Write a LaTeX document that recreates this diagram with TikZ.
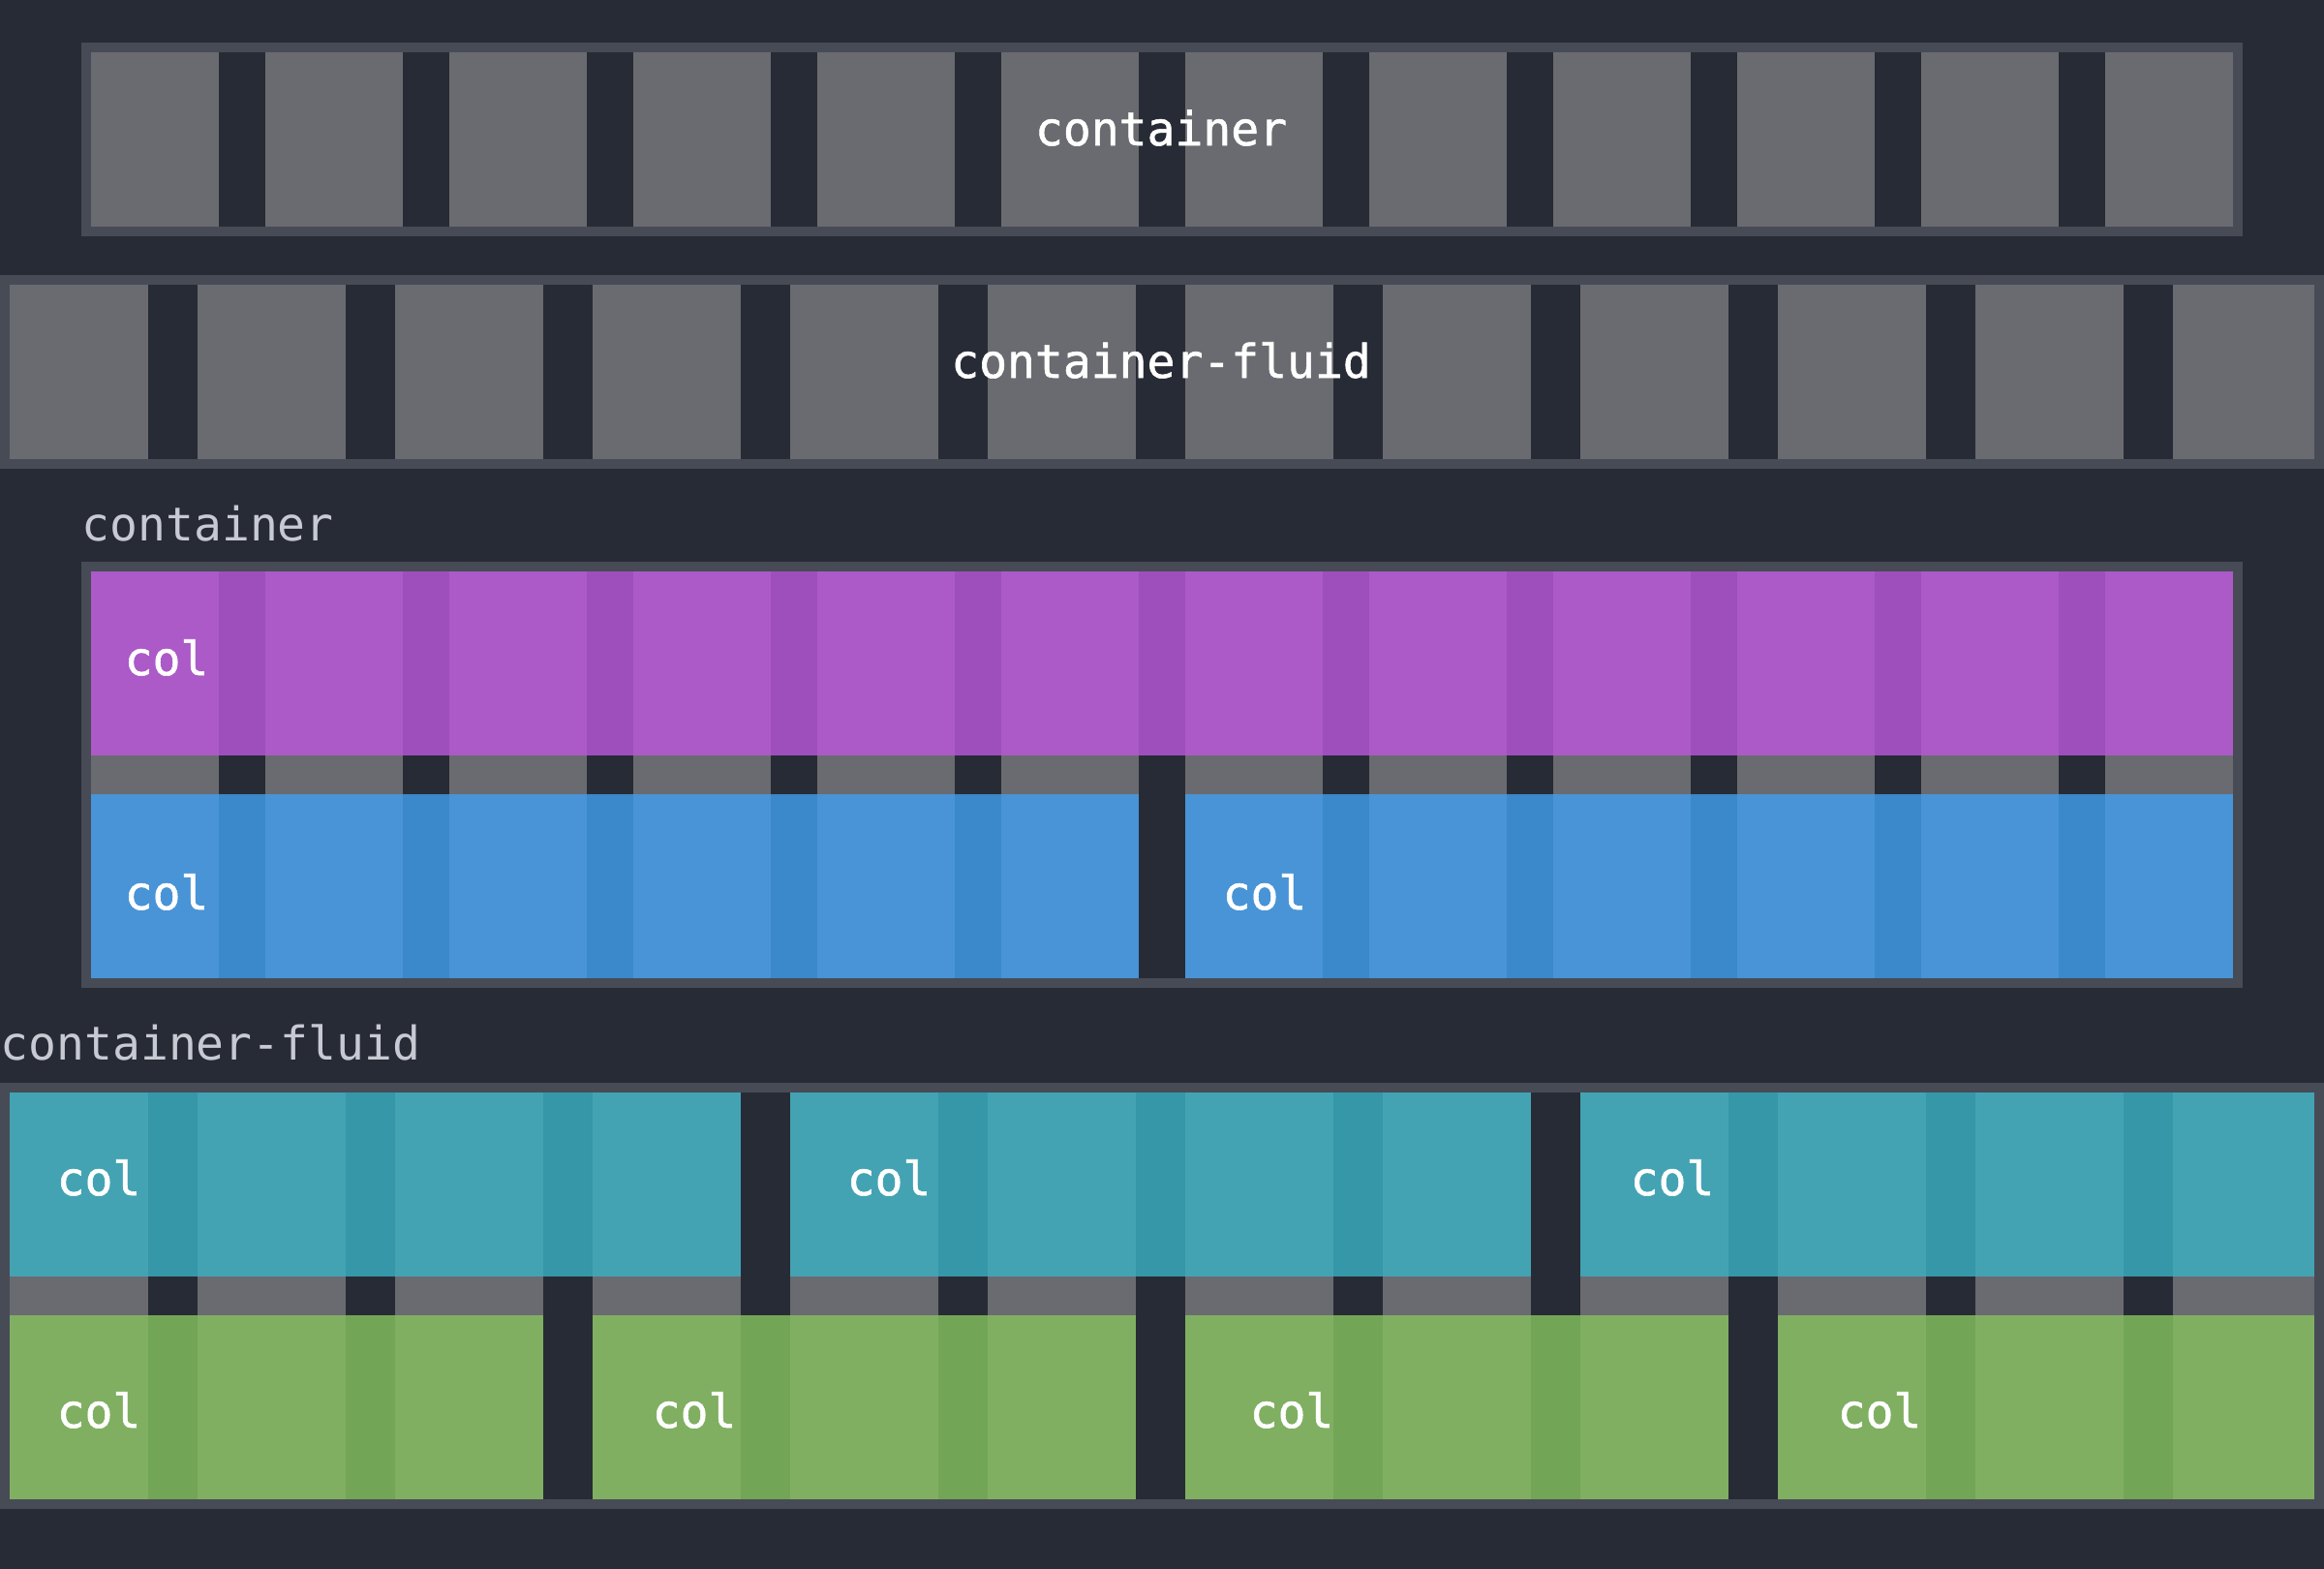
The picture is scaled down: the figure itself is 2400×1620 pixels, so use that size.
\documentclass[tikz,border=0pt]{standalone}
\usepackage{fontspec}
\newfontfamily\gridmono[BoldFont={DejaVu Sans Mono},BoldFeatures={FakeBold=1.2}]{DejaVu Sans Mono}
\definecolor{bgcol}{HTML}{272B35}
\definecolor{framegray}{HTML}{474B55}
\definecolor{cellgray}{HTML}{6A6B70}
\definecolor{capgray}{HTML}{C8CAD3}
\definecolor{purplecol}{HTML}{AB5AC7}
\definecolor{purpledark}{HTML}{9E4FBC}
\definecolor{bluecol}{HTML}{4894D6}
\definecolor{bluedark}{HTML}{3B88CA}
\definecolor{tealcol}{HTML}{43A3B3}
\definecolor{tealdark}{HTML}{3597A7}
\definecolor{greencol}{HTML}{80AF62}
\definecolor{greendark}{HTML}{73A556}
\tikzset{
  boxframe/.style={draw=framegray, line width=3pt},
  tag/.style={font=\gridmono\bfseries\fontsize{14.4pt}{17pt}\selectfont, inner sep=0pt, anchor=base west, text=white},
  caption/.style={tag, font=\gridmono\fontsize{14.4pt}{17pt}\selectfont, text=capgray},
}
\begin{document}
\begin{tikzpicture}[x=0.3pt,y=-0.3pt]
  \fill[bgcol] (0,0) rectangle (2400,1620);

  % container
  \foreach \k in {0,...,11}{%
    \fill[cellgray] ({84+190*\k},54) rectangle +(142,180);
  }
  \draw[boxframe] (89,49) rectangle (2311,239);
  \node[tag,anchor=base] (top-c) at (1199,150) {container};

  % container-fluid
  \foreach \k in {0,...,11}{%
    \fill[cellgray] ({204*\k},294) rectangle +(153,180);
  }
  \draw[boxframe] (5,289) rectangle (2395,479);
  \node[tag,anchor=base] (top-cf) at (1199,390) {container-fluid};

  % container with cols
  \node[caption] (lbl-c) at (84,558) {container};
  \foreach \k in {0,...,11}{%
    \fill[cellgray] ({84+190*\k},590) rectangle +(142,420);
  }
  \fill[purplecol] (84,590) rectangle (2316,780);
  \foreach \k in {0,...,10}{%
    \fill[purpledark] ({226+190*\k},590) rectangle +(48,190);
  }
  \fill[bluecol] (84,820) rectangle (1176,1010);
  \fill[bluecol] (1224,820) rectangle (2316,1010);
  \foreach \k in {0,1,2,3,4,6,7,8,9,10}{%
    \fill[bluedark] ({226+190*\k},820) rectangle +(48,190);
  }
  \draw[boxframe] (89,585) rectangle (2311,1015);
  \node[tag] (col-p) at (128,697) {col};
  \node[tag] (col-b1) at (128,939) {col};
  \node[tag] (col-b2) at (1262,939) {col};

  % container-fluid with cols
  \node[caption] (lbl-cf) at (0,1094) {container-fluid};
  \foreach \k in {0,...,11}{%
    \fill[cellgray] ({204*\k},1128) rectangle +(153,420);
  }
  \fill[tealcol] (0,1128) rectangle (765,1318);
  \fill[tealcol] (816,1128) rectangle (1581,1318);
  \fill[tealcol] (1632,1128) rectangle (2400,1318);
  \foreach \k in {0,1,2,4,5,6,8,9,10}{%
    \fill[tealdark] ({153+204*\k},1128) rectangle +(51,190);
  }
  \fill[greencol] (0,1358) rectangle (561,1548);
  \fill[greencol] (612,1358) rectangle (1173,1548);
  \fill[greencol] (1224,1358) rectangle (1785,1548);
  \fill[greencol] (1836,1358) rectangle (2400,1548);
  \foreach \k in {0,1,3,4,6,7,9,10}{%
    \fill[greendark] ({153+204*\k},1358) rectangle +(51,190);
  }
  \draw[boxframe] (5,1123) rectangle (2395,1553);
  \node[tag] (col-t1) at (58,1234) {col};
  \node[tag] (col-t2) at (874,1234) {col};
  \node[tag] (col-t3) at (1683,1234) {col};
  \node[tag] (col-g1) at (58,1474) {col};
  \node[tag] (col-g2) at (673,1474) {col};
  \node[tag] (col-g3) at (1290,1474) {col};
  \node[tag] (col-g4) at (1897,1474) {col};
\end{tikzpicture}
\end{document}
